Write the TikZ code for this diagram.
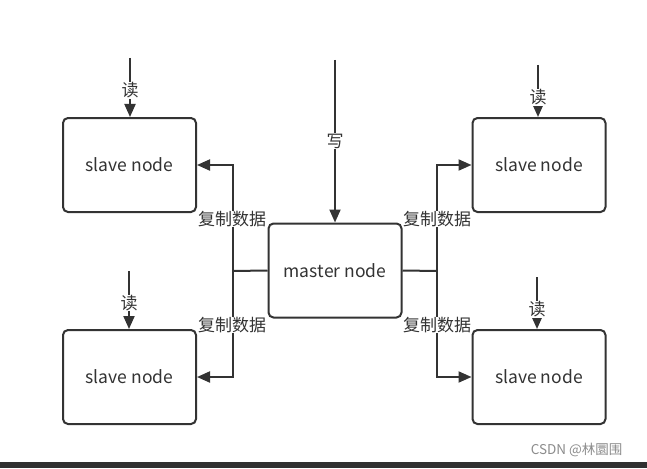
\documentclass[tikz,border=0pt]{standalone}
\usepackage{fontspec}
\setmainfont{Noto Sans CJK SC}
\usetikzlibrary{arrows.meta}
\definecolor{ink}{HTML}{333333}
\begin{document}
\begin{tikzpicture}[x=1pt,y=-1pt,
  box/.style={draw=ink,line width=2pt,rounded corners=5pt,minimum width=133pt,minimum height=94pt,inner sep=0pt,font=\fontsize{17.5}{20}\selectfont,text=ink},
  conn/.style={draw=ink,line width=2pt,-{Triangle[length=13pt,width=11pt]}},
  wire/.style={draw=ink,line width=2pt},
  lbl/.style={fill=white,inner sep=0.5pt,text=ink,font=\fontsize{17}{19}\selectfont}]
\useasboundingbox (0,0) rectangle (647,468);
\fill[white] (0,0) rectangle (647,468);
\fill[ink!95!black] (0,462) rectangle (647,468);
% boxes
\node[box] (tl) at (129.5,165) {slave node};
\node[box] (tr) at (539,165) {slave node};
\node[box] (bl) at (129.5,377) {slave node};
\node[box] (br) at (539,377) {slave node};
\node[box] (m) at (335,270.5) {master node};
% read/write inputs
\coordinate (tls) at (130,58);
\coordinate (trs) at (538,65);
\coordinate (bls) at (129,271);
\coordinate (brs) at (537,277);
\coordinate (ms) at (335,60);
\draw[conn] (tls) -- (tls |- tl.north) node[lbl,pos=0.55] {读};
\draw[conn] (trs) -- (trs |- tr.north) node[lbl,pos=0.62] {读};
\draw[conn] (bls) -- (bls |- bl.north) node[lbl,pos=0.55] {读};
\draw[conn] (brs) -- (brs |- br.north) node[lbl,pos=0.62] {读};
\draw[conn] (ms) -- (m.north) node[lbl,pos=0.5] {写};
% replication
\coordinate (lj) at (233,271);
\coordinate (rj) at (437,271);
\draw[wire] (m.west) -- (lj);
\draw[wire] (m.east) -- (rj);
\draw[conn] (lj) -- (233,165) -- (tl.east);
\draw[conn] (lj) -- (233,377) -- (bl.east);
\draw[conn] (rj) -- (437,165) -- (tr.west);
\draw[conn] (rj) -- (437,377) -- (br.west);
\node[lbl] (l1) at (232,219) {复制数据};
\node[lbl] (l2) at (232,325) {复制数据};
\node[lbl] (l3) at (437,219) {复制数据};
\node[lbl] (l4) at (437,325) {复制数据};
\node[anchor=east,text=black!45,font=\fontsize{13.5}{15}\selectfont] (wm) at (626,450) {CSDN @林圜围};
\end{tikzpicture}
\end{document}
